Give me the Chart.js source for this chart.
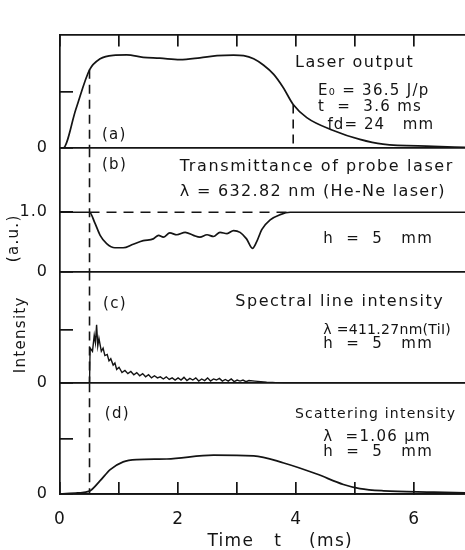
<!DOCTYPE html>
<html>
<head>
<meta charset="utf-8">
<script src="https://cdn.jsdelivr.net/npm/chart.js@4.4.1/dist/chart.umd.min.js"></script>
<style>
  html, body { margin: 0; padding: 0; background: #fff; }
  #wrap { width: 465px; height: 550px; }
</style>
</head>
<body>
<div id="wrap"><canvas id="fig" width="465" height="550"></canvas></div>
<script>
// (a) laser output
const tLaser = [0, 0.05, 0.27, 0.5, 0.68, 0.9, 1.13, 1.41, 1.69, 2.03, 2.37, 2.66, 2.94, 3.11, 3.28, 3.45, 3.62, 3.78, 3.95, 4.18, 4.63, 5.08, 5.47, 6.32, 6.86];
const laser = [0, 0, 0.345, 0.69, 0.787, 0.818, 0.821, 0.80, 0.793, 0.78, 0.796, 0.815, 0.82, 0.815, 0.787, 0.73, 0.65, 0.535, 0.385, 0.27, 0.157, 0.078, 0.036, 0.017, 0.008];

// (b) transmittance of probe laser
const tTrans = [0, 0.5, 0.59, 0.68, 0.79, 0.93, 1.07, 1.24, 1.41, 1.58, 1.67, 1.75, 1.86, 1.98, 2.12, 2.26, 2.37, 2.49, 2.6, 2.71, 2.83, 2.94, 3.05, 3.16, 3.26, 3.33, 3.42, 3.56, 3.73, 3.9, 6.86];
const trans = [1.0, 1.0, 0.82, 0.61, 0.47, 0.40, 0.40, 0.46, 0.52, 0.55, 0.61, 0.58, 0.65, 0.62, 0.66, 0.61, 0.58, 0.62, 0.59, 0.66, 0.64, 0.69, 0.66, 0.55, 0.39, 0.50, 0.71, 0.87, 0.96, 1.0, 1.0];

// (c) spectral line intensity, TiI 411.27 nm
const tSpec = [0, 0.5, 0.51, 0.55, 0.58, 0.6, 0.62, 0.64, 0.66, 0.7, 0.73, 0.76, 0.8, 0.83, 0.86, 0.9, 0.93, 0.96, 1.0, 1.05, 1.1, 1.15, 1.2, 1.25, 1.3, 1.35, 1.4, 1.45, 1.5, 1.55, 1.6, 1.65, 1.7, 1.75, 1.8, 1.85, 1.9, 1.95, 2.0, 2.05, 2.1, 2.15, 2.2, 2.25, 2.3, 2.35, 2.4, 2.45, 2.5, 2.55, 2.6, 2.65, 2.7, 2.75, 2.8, 2.85, 2.9, 2.95, 3.0, 3.05, 3.1, 3.15, 3.2, 3.3, 3.4, 3.5, 3.6, 3.7, 3.8, 6.86];
const spec = [0, 0, 0.33, 0.30, 0.45, 0.38, 0.55, 0.35, 0.42, 0.30, 0.33, 0.26, 0.27, 0.21, 0.23, 0.17, 0.19, 0.13, 0.15, 0.10, 0.12, 0.09, 0.11, 0.08, 0.10, 0.07, 0.09, 0.06, 0.08, 0.05, 0.07, 0.05, 0.06, 0.04, 0.06, 0.035, 0.05, 0.03, 0.05, 0.03, 0.055, 0.025, 0.045, 0.03, 0.05, 0.02, 0.04, 0.025, 0.05, 0.02, 0.04, 0.03, 0.045, 0.02, 0.035, 0.02, 0.04, 0.015, 0.03, 0.02, 0.03, 0.015, 0.025, 0.02, 0.015, 0.01, 0.008, 0.003, 0, 0];

// (d) scattering intensity, 1.06 um
const tScat = [0, 0.3, 0.5, 0.68, 0.85, 1.07, 1.3, 1.81, 2.6, 3.28, 3.79, 4.35, 4.8, 5.08, 5.48, 6.33, 6.86];
const scat = [0, 0.01, 0.026, 0.12, 0.22, 0.29, 0.31, 0.316, 0.35, 0.345, 0.28, 0.18, 0.086, 0.049, 0.029, 0.017, 0.01];

const timeTicks = [0, 1, 2, 3, 4, 5, 6];
const timeLabels = ['0', '', '2', '', '4', '', '6'];
const tStart = 0.5;   // dashed markers
const tEnd = 3.95;

const ink = '#141414';
const xMax = 6.86;
const maxA = 1.0, maxB = 2.08, maxC = 1.05, maxD = 1.0;

Chart.defaults.font.family = '"DejaVu Sans", sans-serif';

function pts(ts, vs) { return ts.map((t, i) => ({x: t, y: vs[i]})); }

function line(data, yId, extra) {
  return Object.assign({
    data: data, xAxisID: 'x', yAxisID: yId,
    borderColor: ink, borderWidth: 1.7, pointRadius: 0, fill: false,
    cubicInterpolationMode: 'monotone'
  }, extra || {});
}
const dash = {borderDash: [9, 6], borderWidth: 1.6, cubicInterpolationMode: 'default', tension: 0};

function panelAxis(weight, order, max, ticks, labels) {
  return {
    type: 'linear', position: 'left', stack: 'panels', stackWeight: weight, weight: order,
    min: 0, max: max,
    afterBuildTicks: s => { s.ticks = ticks.map(v => ({value: v})); },
    afterFit: s => { s.width = 60; },
    border: {display: true, color: ink, width: 1.7},
    grid: {
      color: c => (c.tick && c.tick.value === 0) ? ink : 'rgba(0,0,0,0)',
      lineWidth: 1.7, tickColor: ink, tickLength: -13
    },
    ticks: {padding: 25, color: ink, font: {size: 16}, callback: (v, i) => labels[i]}
  };
}

// panel captions: text, x (ms), y (panel units), panel axis, font px, letter spacing px
const notes = [
  {t: 'Laser output', x: 3.98, y: 0.75, s: 'ya', f: 16, sp: 1.5},
  {t: 'E\u2080 = 36.5 J/p', x: 4.37, y: 0.50, s: 'ya', f: 15, sp: 1.3},
  {t: 't  =  3.6 ms', x: 4.37, y: 0.36, s: 'ya', f: 15, sp: 1.3},
  {t: 'fd= 24   mm', x: 4.53, y: 0.20, s: 'ya', f: 15, sp: 1.1},
  {t: '(a)', x: 0.71, y: 0.12, s: 'ya', f: 15, sp: 1.3},
  {t: '(b)', x: 0.71, y: 1.79, s: 'yb', f: 15, sp: 1.3},
  {t: 'Transmittance of probe laser', x: 2.03, y: 1.76, s: 'yb', f: 16, sp: 1.6},
  {t: '\u03bb = 632.82 nm (He-Ne laser)', x: 2.03, y: 1.34, s: 'yb', f: 16, sp: 1.3},
  {t: 'h  =  5   mm', x: 4.46, y: 0.55, s: 'yb', f: 15, sp: 1.3},
  {t: '(c)', x: 0.73, y: 0.74, s: 'yc', f: 15, sp: 1.3},
  {t: 'Spectral line intensity', x: 2.97, y: 0.76, s: 'yc', f: 16, sp: 1.5},
  {t: '\u03bb =411.27nm(TiI)', x: 4.46, y: 0.50, s: 'yc', f: 14, sp: 0.3},
  {t: 'h  =  5   mm', x: 4.46, y: 0.37, s: 'yc', f: 15, sp: 1.3},
  {t: '(d)', x: 0.76, y: 0.72, s: 'yd', f: 15, sp: 1.3},
  {t: 'Scattering intensity', x: 3.98, y: 0.72, s: 'yd', f: 14, sp: 1.2},
  {t: '\u03bb  =1.06 \u03bcm', x: 4.46, y: 0.51, s: 'yd', f: 15, sp: 1.3},
  {t: 'h  =  5   mm', x: 4.46, y: 0.38, s: 'yd', f: 15, sp: 1.3}
];

const inkText = {
  id: 'inkText',
  beforeDraw(chart) { chart.ctx.letterSpacing = '1px'; },
  afterDraw(chart) {
    const ctx = chart.ctx, x = chart.scales.x, area = chart.chartArea;
    ctx.save();
    ctx.fillStyle = ink;
    ctx.textBaseline = 'middle';
    ctx.textAlign = 'left';
    notes.forEach(n => {
      ctx.font = n.f + 'px "DejaVu Sans"';
      ctx.letterSpacing = n.sp + 'px';
      ctx.fillText(n.t, x.getPixelForValue(n.x), chart.scales[n.s].getPixelForValue(n.y));
    });
    // x axis title
    ctx.letterSpacing = '1.3px';
    ctx.textAlign = 'center';
    ctx.font = '17px "DejaVu Sans"';
    ctx.fillText('Time   t    (ms)', x.getPixelForValue(3.73), area.bottom + 48);
    // y axis title, rotated
    ctx.font = '15px "DejaVu Sans"';
    ctx.save();
    ctx.translate(area.left - 39, chart.scales.yc.getPixelForValue(0.455));
    ctx.rotate(-Math.PI / 2);
    ctx.fillText('Intensity', 0, 0);
    ctx.restore();
    ctx.save();
    ctx.translate(area.left - 46, chart.scales.yb.getPixelForValue(0.56));
    ctx.rotate(-Math.PI / 2);
    ctx.fillText('(a.u.)', 0, 0);
    ctx.restore();
    ctx.restore();
  }
};

new Chart(document.getElementById('fig'), {
  type: 'line',
  data: {
    datasets: [
      line(pts(tLaser, laser), 'ya'),
      line(pts(tTrans, trans), 'yb'),
      line(pts(tSpec, spec), 'yc', {cubicInterpolationMode: 'default', tension: 0, borderWidth: 1.4}),
      line(pts(tScat, scat), 'yd'),
      line([{x: tStart, y: laser[tLaser.indexOf(tStart)]}, {x: tStart, y: 0}], 'ya', dash),
      line([{x: tEnd, y: laser[tLaser.indexOf(tEnd)]}, {x: tEnd, y: 0}], 'ya', dash),
      line([{x: tStart, y: maxB}, {x: tStart, y: 0}], 'yb', dash),
      line([{x: tStart, y: 1.0}, {x: tEnd, y: 1.0}], 'yb', Object.assign({}, dash, {borderDash: [10, 7]})),
      line([{x: tStart, y: maxC}, {x: tStart, y: 0}], 'yc', dash),
      line([{x: tStart, y: maxD}, {x: tStart, y: 0}], 'yd', dash)
    ]
  },
  options: {
    responsive: false,
    devicePixelRatio: 1,
    animation: false,
    layout: {padding: 0},
    plugins: {legend: {display: false}, tooltip: {enabled: false}},
    scales: {
      x: {
        type: 'linear', position: 'bottom', min: 0, max: xMax,
        afterBuildTicks: s => { s.ticks = timeTicks.map(v => ({value: v})); },
        afterFit: s => { s.height = 56; },
        border: {display: true, color: ink, width: 1.7},
        grid: {drawOnChartArea: false, color: ink, lineWidth: 1.7, tickLength: -12},
        ticks: {padding: 27, maxRotation: 0, autoSkip: false, color: ink, font: {size: 17},
                callback: (v, i) => timeLabels[i]}
      },
      xTop: {
        type: 'linear', axis: 'x', position: 'top', min: 0, max: xMax,
        afterBuildTicks: s => { s.ticks = timeTicks.map(v => ({value: v})); },
        afterFit: s => { s.height = 13; },
        border: {display: true, color: ink, width: 1.7},
        grid: {drawOnChartArea: false, color: ink, lineWidth: 1.7, tickLength: -12},
        ticks: {display: false}
      },
      yd: panelAxis(116, 1, maxD, [0, 0.5], ['0', '']),
      yc: panelAxis(117, 2, maxC, [0, 0.5], ['0', '']),
      yb: panelAxis(129, 3, maxB, [0, 1.0], ['0', '1.0']),
      ya: panelAxis(119, 4, maxA, [0, 0.5], ['0', ''])
    }
  },
  plugins: [inkText]
});
</script>
</body>
</html>
